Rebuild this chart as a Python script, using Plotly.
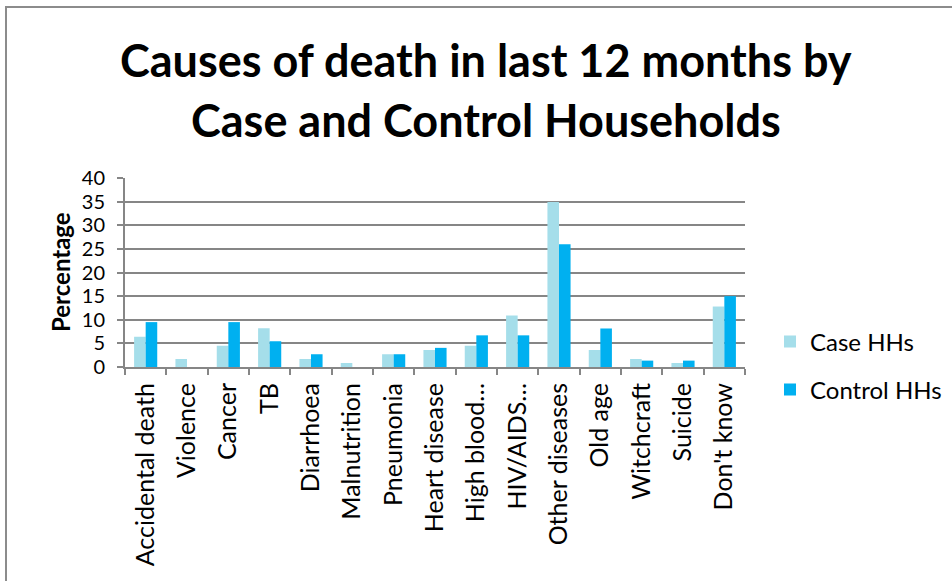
import plotly.graph_objects as go

# ===============================
# DATA
# ===============================
causes = [
    "Accidental death", "Violence", "Cancer", "TB", "Diarrhoea",
    "Malnutrition", "Pneumonia", "Heart disease", "High blood…", "HIV/AIDS…",
    "Other diseases", "Old age", "Witchcraft", "Suicide", "Don't know",
]
case_hhs = [6.4, 1.7, 4.5, 8.2, 1.7, 0.85, 2.7, 3.6, 4.5, 10.9, 34.9, 3.6, 1.7, 0.85, 12.8]
control_hhs = [9.5, 0, 9.5, 5.45, 2.7, 0, 2.7, 4.05, 6.7, 6.7, 26.0, 8.15, 1.35, 1.35, 15.0]
y_ticks = [0, 5, 10, 15, 20, 25, 30, 35, 40]

CASE_COLOR = "#A5DEEA"
CONTROL_COLOR = "#00B0F0"
GRID = "#868686"
FONT = "Lato"

W, H = 952, 581
L, R, T, B = 125, 952 - 745, 178, 581 - 367
PW, PH = W - L - R, H - T - B


def px_x(x):
    return (x - L) / PW


def px_y(y):
    return (H - B - y) / PH


fig = go.Figure()

fig.add_trace(go.Bar(
    x=causes, y=case_hhs, name="Case HHs",
    marker=dict(color=CASE_COLOR, line=dict(width=0)),
    legend="legend",
))
fig.add_trace(go.Bar(
    x=causes, y=control_hhs, name="Control HHs",
    marker=dict(color=CONTROL_COLOR, line=dict(width=0)),
    legend="legend2",
))

fig.update_layout(
    width=W, height=H,
    margin=dict(l=L, r=R, t=T, b=B, autoexpand=False),
    paper_bgcolor="white",
    plot_bgcolor="white",
    font=dict(family=FONT, color="black", size=24),
    showlegend=True,
    barmode="group",
    bargap=0.44,
    bargroupgap=0,
    legend=dict(
        x=px_x(770), y=px_y(342), yanchor="middle", xanchor="left",
        font=dict(size=24), bgcolor="rgba(0,0,0,0)", visible=True,
    ),
    legend2=dict(
        x=px_x(770), y=px_y(390), yanchor="middle", xanchor="left",
        font=dict(size=24), bgcolor="rgba(0,0,0,0)", visible=True,
    ),
    annotations=[
        dict(text="<b>Causes of death in last 12 months by</b>",
             xref="paper", yref="paper", x=px_x(486), y=px_y(60),
             xanchor="center", yanchor="middle", showarrow=False,
             font=dict(size=45, family=FONT)),
        dict(text="<b>Case and Control Households</b>",
             xref="paper", yref="paper", x=px_x(486), y=px_y(120),
             xanchor="center", yanchor="middle", showarrow=False,
             font=dict(size=45, family=FONT)),
        dict(text="<b>Percentage</b>", textangle=-90,
             xref="paper", yref="paper", x=px_x(60), y=px_y(272),
             xanchor="center", yanchor="middle", showarrow=False,
             font=dict(size=24, family=FONT)),
    ],
    shapes=[
        dict(type="rect", xref="paper", yref="paper",
             x0=px_x(6), x1=px_x(1000), y0=px_y(640), y1=px_y(7),
             line=dict(color="#8C8C8C", width=2), layer="below"),
    ],
)

fig.update_xaxes(
    tickangle=-90,
    showline=True, linecolor=GRID, linewidth=2,
    ticks="outside", tickson="boundaries", ticklen=6,
    tickcolor=GRID, tickwidth=2,
    tickfont=dict(size=25),
    ticklabelstandoff=4,
    automargin=False,
)
fig.update_yaxes(
    range=[0, 40], tickvals=y_ticks,
    showgrid=True, gridcolor=GRID, gridwidth=2,
    showline=True, linecolor=GRID, linewidth=2,
    ticks="outside", ticklen=6, tickcolor=GRID, tickwidth=2,
    tickfont=dict(size=20),
    ticklabelstandoff=8,
    zeroline=False,
    automargin=False,
)

# drop the browser's default 8px body margin so the page lines up with the reference
fig.write_html(
    "out.html",
    config={"displayModeBar": False},
    post_script="document.body.style.margin='0';",
)
